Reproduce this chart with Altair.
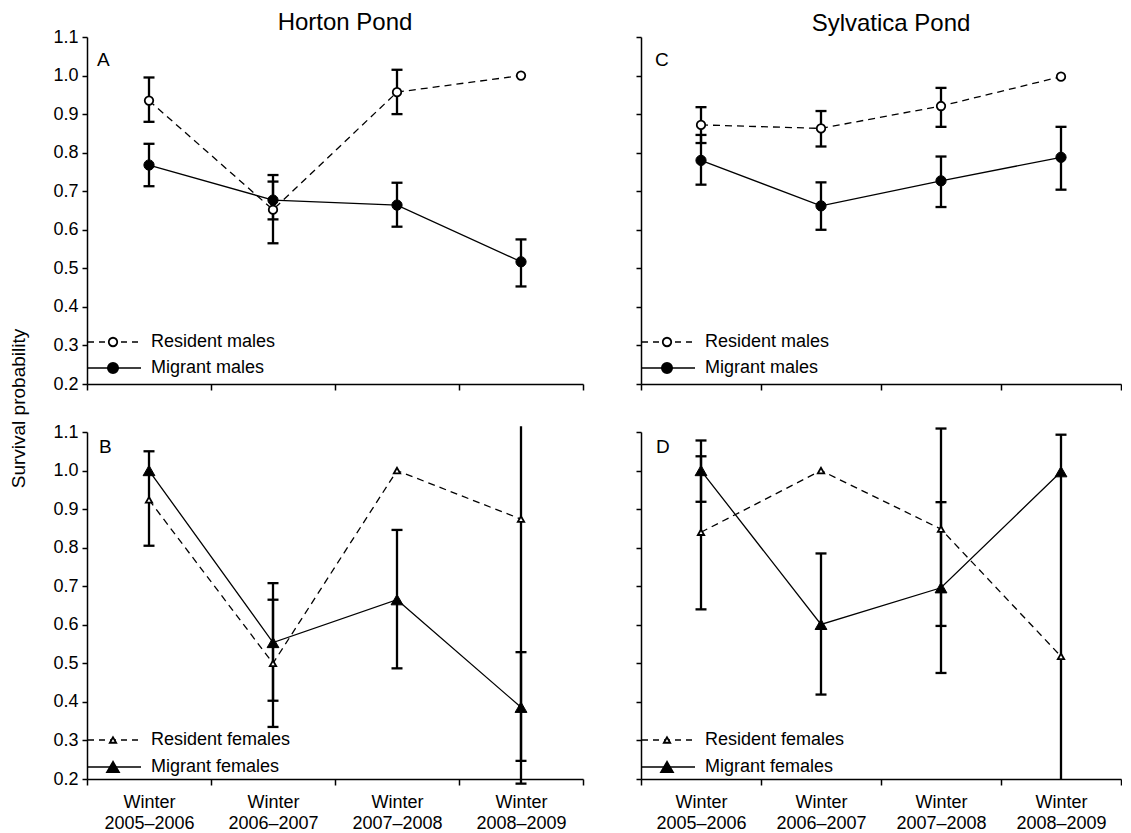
import altair as alt
import pandas as pd

winters = ["Winter 2005–2006", "Winter 2006–2007", "Winter 2007–2008", "Winter 2008–2009"]
y_ticks = [0.2, 0.3, 0.4, 0.5, 0.6, 0.7, 0.8, 0.9, 1.0, 1.1]
pond_titles = ["Horton Pond", "Sylvatica Pond"]
panel_letters = ["A", "B", "C", "D"]
male_names = ["Resident males", "Migrant males"]
female_names = ["Resident females", "Migrant females"]

# Panel A - Horton Pond, males
a_res_mean = [0.935, 0.652, 0.957, 1.000]
a_res_lo = [0.880, 0.565, 0.900, None]
a_res_hi = [0.995, 0.725, 1.015, None]
a_mig_mean = [0.768, 0.677, 0.664, 0.517]
a_mig_lo = [0.713, 0.627, 0.608, 0.453]
a_mig_hi = [0.823, 0.742, 0.722, 0.575]

# Panel B - Horton Pond, females
b_res_mean = [0.924, 0.500, 1.000, 0.874]
b_res_lo = [0.805, 0.335, None, 0.188]
b_res_hi = [1.050, 0.665, None, 1.115]
b_mig_mean = [1.000, 0.554, 0.665, 0.386]
b_mig_lo = [None, 0.403, 0.487, 0.247]
b_mig_hi = [None, 0.708, 0.846, 0.529]

# Panel C - Sylvatica Pond, males
c_res_mean = [0.872, 0.863, 0.921, 0.997]
c_res_lo = [0.825, 0.816, 0.867, None]
c_res_hi = [0.918, 0.908, 0.968, None]
c_mig_mean = [0.780, 0.662, 0.727, 0.788]
c_mig_lo = [0.717, 0.600, 0.659, 0.704]
c_mig_hi = [0.846, 0.723, 0.790, 0.867]

# Panel D - Sylvatica Pond, females
d_res_mean = [0.840, 1.000, 0.848, 0.518]
d_res_lo = [0.640, None, 0.597, 0.200]
d_res_hi = [1.037, None, 1.109, 1.093]
d_mig_mean = [1.000, 0.601, 0.696, 0.997]
d_mig_lo = [0.919, 0.419, 0.475, None]
d_mig_hi = [1.078, 0.785, 0.918, None]

# error-bar ends drawn without a cap (bar runs off the plot)
open_ends = [("B", 0, 3, "hi"), ("D", 0, 3, "lo")]

FONT = "Liberation Sans"
W_LEFT, W_RIGHT, H = 496, 480, 347


def x_enc(show_labels):
    return alt.X(
        "year:N",
        bandPosition=0.5,
        scale=alt.Scale(type="band", domain=winters, paddingInner=0, paddingOuter=0),
        axis=alt.Axis(
            title=None, tickBand="extent", labelAngle=0, labels=show_labels,
            labelExpr="split(datum.label, ' ')", labelFontSize=18, labelLineHeight=21,
            labelPadding=8, tickSize=6,
        ),
    )


def y_enc(field, show_labels):
    return alt.Y(
        f"{field}:Q",
        scale=alt.Scale(domain=[0.2, 1.1], nice=False, zero=False),
        axis=alt.Axis(
            title=None, values=y_ticks, format=".1f", labels=show_labels,
            tickSize=5, labelPadding=4, labelFontSize=18, grid=False,
        ),
    )


def make_panel(key, series, names, shape, sizes, show_x, show_y, width, title,
               letter_xy, legend_y):
    rows, caps = [], []
    for s_idx, (mean, lo, hi) in enumerate(series):
        for i, w in enumerate(winters):
            rows.append(dict(year=w, series=names[s_idx], mean=mean[i], lo=lo[i], hi=hi[i]))
            for end, v in (("lo", lo[i]), ("hi", hi[i])):
                if v is not None and (key, s_idx, i, end) not in open_ends:
                    caps.append(dict(year=w, val=v))
    df = pd.DataFrame(rows)
    df_err = df.dropna(subset=["lo", "hi"])
    df_caps = pd.DataFrame(caps)
    df_res = df[df.series == names[0]]
    df_mig = df[df.series == names[1]]

    xe = x_enc(show_x)
    layers = [
        alt.Chart(df_res).mark_line(color="black", strokeWidth=1.3, strokeDash=[7, 5]).encode(
            x=xe, y=y_enc("mean", show_y)),
        alt.Chart(df_mig).mark_line(color="black", strokeWidth=1.3).encode(
            x=xe, y=y_enc("mean", show_y)),
        alt.Chart(df_err).mark_rule(color="black", strokeWidth=2.3).encode(
            x=xe, y=y_enc("lo", show_y), y2=alt.Y2("hi:Q")),
        alt.Chart(df_caps).mark_tick(color="black", thickness=2.3, size=11, opacity=1).encode(
            x=xe, y=y_enc("val", show_y)),
        alt.Chart(df_res).mark_point(shape=shape, filled=True, fill="white", stroke="black",
                                     strokeWidth=1.8, size=sizes[0], opacity=1).encode(
            x=xe, y=y_enc("mean", show_y)),
        alt.Chart(df_mig).mark_point(shape=shape, filled=True, fill="black", stroke="black",
                                     strokeWidth=1, size=sizes[1], opacity=1).encode(
            x=xe, y=y_enc("mean", show_y)),
    ]

    one = pd.DataFrame({"k": [0]})
    layers.append(alt.Chart(one).mark_text(
        align="left", baseline="alphabetic", fontSize=19, font=FONT, color="black").encode(
        x=alt.value(letter_xy[0]), y=alt.value(letter_xy[1]), text=alt.value(key)))

    # in-plot legend
    for r, (nm, dash, fill, size) in enumerate([
        (names[0], [6, 5], "white", sizes[0]),
        (names[1], [1, 0], "black", sizes[1]),
    ]):
        ly = legend_y[r]
        layers.append(alt.Chart(one).mark_rule(color="black", strokeWidth=1.3, strokeDash=dash).encode(
            x=alt.value(1), x2=alt.value(54), y=alt.value(ly)))
        layers.append(alt.Chart(one).mark_point(shape=shape, filled=True, fill=fill, stroke="black",
                                                strokeWidth=1.8, size=size, opacity=1).encode(
            x=alt.value(26), y=alt.value(ly)))
        layers.append(alt.Chart(one).mark_text(
            align="left", baseline="middle", fontSize=18, font=FONT, color="black").encode(
            x=alt.value(64), y=alt.value(ly), text=alt.value(nm)))

    props = dict(width=width, height=H)
    if title is not None:
        props["title"] = alt.TitleParams(
            text=title[0], fontSize=24, fontWeight="normal", font=FONT, color="black",
            anchor="middle", frame="group", offset=title[2], dx=title[1])
    return alt.layer(*layers).properties(**props)


A = make_panel("A", [(a_res_mean, a_res_lo, a_res_hi), (a_mig_mean, a_mig_lo, a_mig_hi)],
               male_names, "circle", [72, 105], False, True, W_LEFT, (pond_titles[0], 10, -7),
               (10, 29), (305, 331))
B = make_panel("B", [(b_res_mean, b_res_lo, b_res_hi), (b_mig_mean, b_mig_lo, b_mig_hi)],
               female_names, "triangle-up", [40, 140], True, True, W_LEFT, None,
               (12, 21), (308, 335))
C = make_panel("C", [(c_res_mean, c_res_lo, c_res_hi), (c_mig_mean, c_mig_lo, c_mig_hi)],
               male_names, "circle", [72, 105], False, False, W_RIGHT, (pond_titles[1], 10, 0),
               (14, 29), (305, 331))
D = make_panel("D", [(d_res_mean, d_res_lo, d_res_hi), (d_mig_mean, d_mig_lo, d_mig_hi)],
               female_names, "triangle-up", [40, 140], True, False, W_RIGHT, None,
               (15, 21), (308, 335))

chart = alt.concat(
    A, C, B, D, columns=2, spacing={"row": 48, "column": 58}, bounds="flush"
).properties(
    title=alt.TitleParams(text="Survival probability", orient="left", anchor="middle",
                          fontSize=19, fontWeight="normal", font=FONT, color="black",
                          offset=24, dx=13),
    padding={"left": 1, "top": 3, "right": 0, "bottom": 0},
).configure(font=FONT).configure_view(stroke=None).configure_axis(
    domainColor="black", domainWidth=1.5, tickColor="black", tickWidth=1.5,
    labelColor="black", labelFont=FONT, grid=False,
)

chart.save("out.html", embed_options={"renderer": "svg", "actions": False})
